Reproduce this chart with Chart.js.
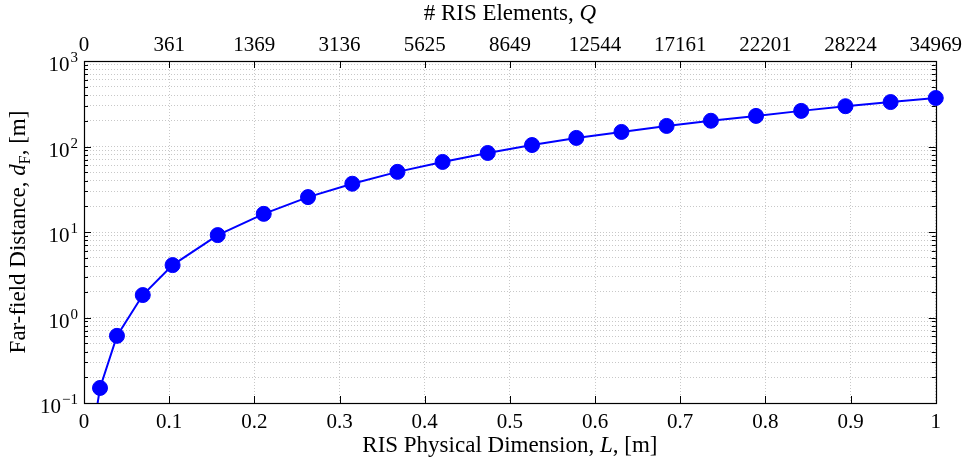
<!DOCTYPE html>
<html><head><meta charset="utf-8">
<script src="https://cdn.jsdelivr.net/npm/chart.js@4/dist/chart.umd.min.js"></script>
<style>html,body{margin:0;padding:0;background:#fff}#wrap{width:965px;height:464px}</style>
</head><body><div id="wrap"><canvas id="c" width="965" height="464"></canvas></div>
<script>
// ---- data ----
const lengthL  = [0.0105, 0.0188, 0.0387, 0.069, 0.104, 0.157, 0.211, 0.263, 0.315, 0.368, 0.421, 0.474, 0.526, 0.578, 0.631, 0.684, 0.736, 0.789, 0.842, 0.894, 0.947, 1.0];
const farField = [0.045, 0.15, 0.61, 1.83, 4.1, 9.2, 16.3, 25.6, 36.7, 50.5, 66, 84, 104, 126, 148, 174, 200, 228, 261, 296, 331, 369];
const bottomTicks  = [0, 0.1, 0.2, 0.3, 0.4, 0.5, 0.6, 0.7, 0.8, 0.9, 1];
const bottomLabels = ['0', '0.1', '0.2', '0.3', '0.4', '0.5', '0.6', '0.7', '0.8', '0.9', '1'];
const topLabels    = ['0', '361', '1369', '3136', '5625', '8649', '12544', '17161', '22201', '28224', '34969'];
const yDecades     = [0.1, 1, 10, 100, 1000];
const yExponents   = ['\u22121', '0', '1', '2', '3'];
const xTitleParts  = [['RIS Physical Dimension, ', 'n'], ['L', 'i'], [', [m]', 'n']];
const x2TitleParts = [['# RIS Elements, ', 'n'], ['Q', 'i']];
const yTitleParts  = [['Far-field Distance, ', 'n'], ['d', 'i'], ['F', 's'], [', [m]', 'n']];

const FAM = '"Liberation Serif", "Times New Roman", serif';
const TICK_FONT = 21, TITLE_FONT = 23;
const BLUE = '#0000ff';
const GRID = '#c8c8c8';

function fontFor(kind, size) {
  if (kind === 'i') return 'italic ' + size + 'px ' + FAM;
  if (kind === 's') return Math.round(size * 0.7) + 'px ' + FAM;
  return size + 'px ' + FAM;
}
function drawParts(ctx, parts, cx, cy, size) {
  let total = 0;
  const widths = parts.map(p => { ctx.font = fontFor(p[1], size); const w = ctx.measureText(p[0]).width; total += w; return w; });
  let x = cx - total / 2;
  ctx.textBaseline = 'alphabetic';
  ctx.textAlign = 'left';
  parts.forEach((p, i) => {
    ctx.font = fontFor(p[1], size);
    ctx.fillText(p[0], x, cy + (p[1] === 's' ? size * 0.22 : 0));
    x += widths[i];
  });
}

const yMinorTicks = [];
yDecades.slice(0, -1).forEach(d => { for (let k = 1; k <= 9; k++) yMinorTicks.push(+(k * d).toPrecision(3)); });
yMinorTicks.push(yDecades[yDecades.length - 1]);

const decor = {
  id: 'decor',
  beforeDatasetsDraw(chart) {
    const ctx = chart.ctx, a = chart.chartArea;
    const xs = chart.scales.x, ys = chart.scales.y;
    ctx.save();
    ctx.strokeStyle = '#000';
    ctx.lineWidth = 1;
    ctx.beginPath();
    bottomTicks.forEach(v => {
      const px = Math.round(xs.getPixelForValue(v)) + 0.5;
      ctx.moveTo(px, a.bottom); ctx.lineTo(px, a.bottom - 7);
      ctx.moveTo(px, a.top); ctx.lineTo(px, a.top + 7);
    });
    yMinorTicks.forEach(v => {
      const py = Math.round(ys.getPixelForValue(v)) + 0.5;
      const len = yDecades.includes(v) ? 7 : 4;
      ctx.moveTo(a.left, py); ctx.lineTo(a.left + len, py);
      ctx.moveTo(a.right, py); ctx.lineTo(a.right - len, py);
    });
    ctx.stroke();
    ctx.lineWidth = 1.2;
    ctx.strokeRect(Math.round(a.left) + 0.5, Math.round(a.top) + 0.5, Math.round(a.right - a.left), Math.round(a.bottom - a.top));
    ctx.restore();
  },
  afterDraw(chart) {
    const ctx = chart.ctx, a = chart.chartArea;
    const ys = chart.scales.y;
    ctx.save();
    ctx.fillStyle = '#000';
    yDecades.forEach((v, i) => {
      const py = ys.getPixelForValue(v);
      ctx.font = Math.round(TICK_FONT * 0.7) + 'px ' + FAM;
      const ew = ctx.measureText(yExponents[i]).width;
      const right = a.left - 6;
      ctx.textAlign = 'right';
      ctx.textBaseline = 'alphabetic';
      ctx.fillText(yExponents[i], right, py + 1);
      ctx.font = TICK_FONT + 'px ' + FAM;
      ctx.fillText('10', right - ew - 1, py + 10);
    });
    const cx = (a.left + a.right) / 2;
    drawParts(ctx, xTitleParts, cx, 452, TITLE_FONT);
    drawParts(ctx, x2TitleParts, cx, 20, TITLE_FONT);
    ctx.save();
    ctx.translate(25, (a.top + a.bottom) / 2);
    ctx.rotate(-Math.PI / 2);
    drawParts(ctx, yTitleParts, 0, 0, TITLE_FONT);
    ctx.restore();
    ctx.restore();
  }
};

const points = lengthL.map((L, i) => ({ x: L, y: farField[i] }));

new Chart(document.getElementById('c'), {
  type: 'scatter',
  data: { datasets: [{
    data: points,
    showLine: true,
    borderColor: BLUE,
    borderWidth: 2,
    backgroundColor: BLUE,
    pointBackgroundColor: BLUE,
    pointBorderColor: BLUE,
    pointBorderWidth: 1,
    pointRadius: 7.5,
    tension: 0,
    clip: { left: 12, right: 12, top: 12, bottom: 0 }
  }] },
  options: {
    responsive: false,
    devicePixelRatio: 1,
    animation: false,
    layout: { padding: { left: 0, right: 28, top: 0, bottom: 0 } },
    plugins: { legend: { display: false }, tooltip: { enabled: false } },
    scales: {
      x: {
        type: 'linear', position: 'bottom', min: 0, max: 1,
        afterBuildTicks: s => { s.ticks = bottomTicks.map(v => ({ value: v })); },
        afterFit: s => { s.height = 61; },
        ticks: { callback: (v, i) => bottomLabels[i], font: { family: FAM, size: TICK_FONT }, color: '#000', padding: 7, maxRotation: 0, autoSkip: false },
        grid: { color: GRID, lineWidth: 1, drawTicks: false },
        border: { display: false, dash: [1, 2] }
      },
      x2: {
        axis: 'x', type: 'linear', position: 'top', min: 0, max: 1,
        afterBuildTicks: s => { s.ticks = bottomTicks.map(v => ({ value: v })); },
        afterFit: s => { s.height = 61; },
        ticks: { callback: (v, i) => topLabels[i], font: { family: FAM, size: TICK_FONT }, color: '#000', padding: 3, maxRotation: 0, autoSkip: false },
        grid: { display: false, drawTicks: false },
        border: { display: false }
      },
      y: {
        type: 'logarithmic', position: 'left', min: 0.1, max: 1000,
        afterBuildTicks: s => { s.ticks = yMinorTicks.map(v => ({ value: v })); },
        afterFit: s => { s.width = 84; },
        ticks: { display: false },
        grid: { color: GRID, lineWidth: 1, drawTicks: false },
        border: { display: false, dash: [1, 2] }
      }
    }
  },
  plugins: [decor]
});
</script>
</body></html>
